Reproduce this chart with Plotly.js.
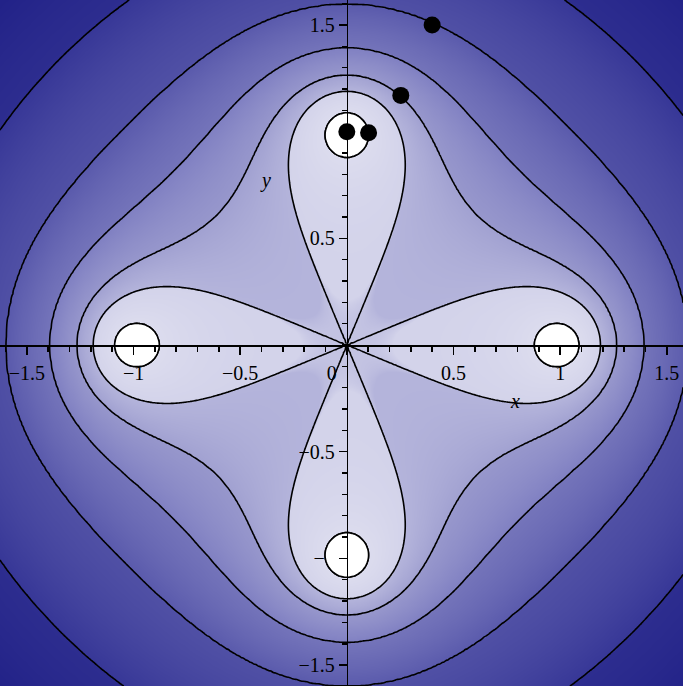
<!DOCTYPE html>
<html>
<head>
<meta charset="utf-8">
<script src="https://cdn.plot.ly/plotly-3.0.1.min.js"></script>
<style>
  html, body { margin: 0; padding: 0; background: #ffffff; }
  #plot { width: 683px; height: 686px; }
</style>
</head>
<body>
<div id="plot"></div>
<script>
// Visible window of the complex plane z = x + iy
const xRange = [-1.626, 1.576];
const yRange = [-1.598, 1.617];

// Contour levels of |z^4 - 1|
const levels = [0.4, 1, 1.55, 2.75, 5.5, 14];

// Newton iterates for z^4 - 1 = 0, heading towards the root i
const iterX = [0.4, 0.253, 0.102, 0.0];
const iterY = [1.5, 1.17, 0.995, 1.0];

// Axis ticks
const xTickVals = [-1.5, -1, -0.5, 0, 0.5, 1, 1.5];
const xTickText = ['\u22121.5', '\u22121', '\u22120.5', '0\u2003\u2002', '0.5', '1', '1.5'];
const yTickVals = [-1.5, -1, -0.5, 0.5, 1, 1.5];
const yTickText = ['\u22121.5', '\u22121', '\u22120.5', '0.5', '1', '1.5'];

// Shading of each band between consecutive levels: [inner colour, outer colour]
const bandColors = [
  ['#ffffff', '#ffffff'],
  ['#dcdcee', '#d3d3ea'],
  ['#b4b4db', '#a1a1d1'],
  ['#9797cc', '#8080c2'],
  ['#7474ba', '#5a5aac'],
  ['#5050a5', '#373797'],
  ['#2d2d8f', '#222288']
];

// ---- sample |z^4 - 1| on a grid and map it to a band coordinate ----
const N = 321;
const xs = [], ys = [];
for (let i = 0; i < N; i++) {
  xs.push(xRange[0] + (xRange[1] - xRange[0]) * i / (N - 1));
  ys.push(yRange[0] + (yRange[1] - yRange[0]) * i / (N - 1));
}

function modulus(x, y) {
  // z^2 = a + ib, z^4 = (a^2 - b^2) + 2abi
  const a = x * x - y * y, b = 2 * x * y;
  const re = a * a - b * b - 1, im = 2 * a * b;
  return Math.sqrt(re * re + im * im);
}

// band coordinate: integer k exactly on levels[k-1], linear in between
const nLev = levels.length;
function bandCoord(v) {
  if (v < levels[0]) return v / levels[0];
  for (let k = 0; k < nLev - 1; k++) {
    if (v < levels[k + 1]) return k + 1 + (v - levels[k]) / (levels[k + 1] - levels[k]);
  }
  const last = levels[nLev - 1];
  return nLev + Math.min((v - last) / last, 1);
}

const zBand = ys.map(y => xs.map(x => bandCoord(modulus(x, y))));

// colour stops along the band coordinate (0 .. nLev + 1)
const tMax = nLev + 1;
const eps = 0.0005;
const colorscale = [];
bandColors.forEach((c, i) => {
  colorscale.push([i === 0 ? 0 : i / tMax + eps, c[0]]);
  colorscale.push([i === bandColors.length - 1 ? 1 : (i + 1) / tMax - eps, c[1]]);
});

// fractions of the plot where the axes cross the origin
const xAxisPos = (0 - yRange[0]) / (yRange[1] - yRange[0]);
const yAxisPos = (0 - xRange[0]) / (xRange[1] - xRange[0]);

const labelFont = { family: 'Liberation Serif, Times New Roman, serif', size: 20, color: '#000000' };

// smooth shading
const shading = {
  type: 'heatmap', x: xs, y: ys, z: zBand,
  xaxis: 'x', yaxis: 'y',
  zmin: 0, zmax: tMax, zsmooth: 'best',
  colorscale: colorscale, showscale: false,
  hoverinfo: 'skip'
};

// contour lines at every level
const contourLines = {
  type: 'contour', x: xs, y: ys, z: zBand,
  xaxis: 'x', yaxis: 'y',
  showscale: false,
  autocontour: false,
  contours: { start: 1, end: nLev, size: 1, coloring: 'none', showlines: true },
  line: { color: '#000000', width: 1.6, smoothing: 0.6 },
  hoverinfo: 'skip'
};

// small discs round the four roots, painted over the tick labels
// (constraint mode shades the region outside the kept set, i.e. below the first level)
const rootDiscs = {
  type: 'contour', x: xs, y: ys, z: zBand,
  xaxis: 'x2', yaxis: 'y2',
  showscale: false,
  contours: { type: 'constraint', operation: '>', value: 1 },
  fillcolor: '#ffffff',
  line: { color: '#000000', width: 1.6, smoothing: 0.6 },
  hoverinfo: 'skip'
};

const iterates = {
  type: 'scatter', mode: 'markers', x: iterX, y: iterY,
  xaxis: 'x2', yaxis: 'y2',
  marker: { color: '#000000', size: 17 },
  hoverinfo: 'skip'
};

const common = { domain: [0, 1], anchor: 'free', showgrid: false, zeroline: false, fixedrange: true };

const layout = {
  width: 683, height: 686,
  margin: { l: 0, r: 0, t: 0, b: 0 },
  paper_bgcolor: '#ffffff', plot_bgcolor: 'rgba(0,0,0,0)',
  showlegend: false,
  // labels layer (drawn under the root discs)
  xaxis: Object.assign({}, common, {
    range: xRange, position: xAxisPos, showline: false,
    tickmode: 'array', tickvals: xTickVals, ticktext: xTickText,
    ticks: 'outside', ticklen: 8, tickcolor: 'rgba(0,0,0,0)', tickfont: labelFont,
    ticklabelstandoff: 2
  }),
  yaxis: Object.assign({}, common, {
    range: yRange, position: yAxisPos, showline: false,
    tickmode: 'array', tickvals: yTickVals, ticktext: yTickText,
    ticks: 'outside', ticklen: 8, tickcolor: 'rgba(0,0,0,0)', tickfont: labelFont
  }),
  // axis lines and ticks, drawn on top of everything
  xaxis2: Object.assign({}, common, {
    range: xRange, position: xAxisPos,
    showline: true, linecolor: '#000000', linewidth: 1.6,
    tickmode: 'array', tickvals: xTickVals, showticklabels: false,
    ticks: 'outside', ticklen: 8, tickwidth: 1.5, tickcolor: '#000000',
    minor: { tickmode: 'linear', tick0: 0, dtick: 0.1, ticks: 'outside', ticklen: 5, tickwidth: 1.5, tickcolor: '#000000' }
  }),
  yaxis2: Object.assign({}, common, {
    range: yRange, position: yAxisPos,
    showline: true, linecolor: '#000000', linewidth: 1.6,
    tickmode: 'array', tickvals: yTickVals, showticklabels: false,
    ticks: 'outside', ticklen: 8, tickwidth: 1.5, tickcolor: '#000000',
    minor: { tickmode: 'linear', tick0: 0, dtick: 0.1, ticks: 'outside', ticklen: 5, tickwidth: 1.5, tickcolor: '#000000' }
  }),
  annotations: [
    { x: 0.79, y: -0.26, xref: 'x', yref: 'y', text: '<i>x</i>', showarrow: false,
      xanchor: 'center', yanchor: 'middle', font: labelFont },
    { x: -0.383, y: 0.773, xref: 'x', yref: 'y', text: '<i>y</i>', showarrow: false,
      xanchor: 'center', yanchor: 'middle', font: labelFont }
  ]
};

Plotly.newPlot('plot', [shading, contourLines, rootDiscs, iterates], layout, { staticPlot: true, displayModeBar: false });
</script>
</body>
</html>
